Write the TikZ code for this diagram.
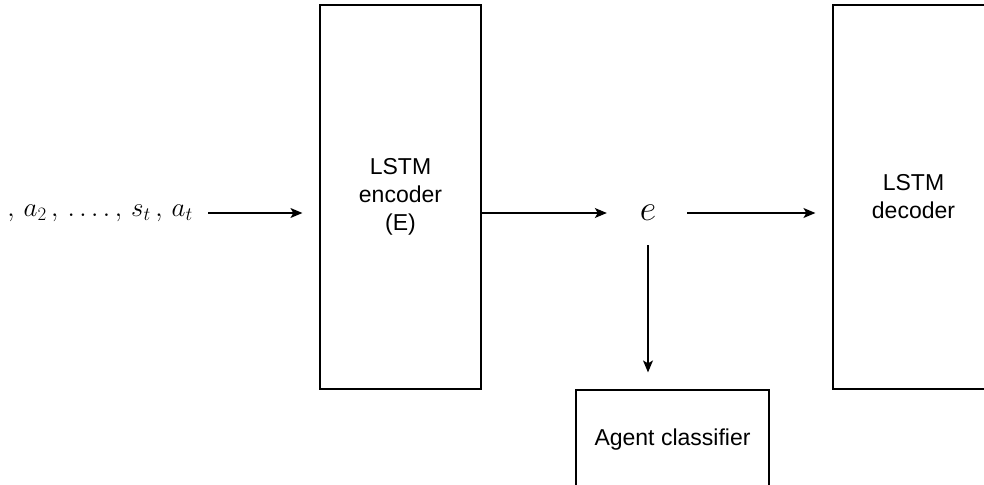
\RequirePackage{fix-cm}
\documentclass[tikz,border=0pt]{standalone}
\usepackage{fontspec}
\setsansfont{Liberation Sans}
\usetikzlibrary{positioning,arrows.meta}

\tikzset{
  block/.style={draw, line width=1.2pt, minimum width=161pt, minimum height=384pt,
    align=center, font=\sffamily\fontsize{23}{28}\selectfont},
  flow/.style={-{Stealth[length=12pt,width=10pt,inset=3pt]}, line width=1.2pt},
}

\begin{document}
\begin{tikzpicture}[x=1pt, y=-1pt]
  \useasboundingbox (0,0) rectangle (984,484);

  % encoder, embedding and decoder
  \node[block] (enc) at (400.5,197) {LSTM\\encoder\\(E)};
  \node[block] (dec) at (913.5,197) {LSTM\\decoder};
  \node[font=\fontsize{36}{40}\selectfont, minimum width=78pt, minimum height=64pt,
    inner sep=0pt] (emb) at (648,213) {$e$};
  \node[block, minimum width=193pt, minimum height=100pt] (cls) at (672.5,440) {Agent classifier};

  % input sequence, cut at the left edge
  \node[anchor=east, inner sep=0pt, font=\fontsize{27}{32}\selectfont] (seq) at (193,213)
    {$,\,a_2\,,\,.\,.\,.\,.\,,\,s_t\,,\,a_t$};

  \draw[flow, shorten <=15pt, shorten >=17pt] (seq.east) -- (enc.west |- seq.east);
  \draw[flow, shorten >=2pt] (enc.east |- emb) -- (emb.west);
  \draw[flow, shorten >=17pt] (emb.east) -- (dec.west |- emb);
  \draw[flow, shorten >=17pt] (emb.south) -- (emb.south |- cls.north);
\end{tikzpicture}
\end{document}
